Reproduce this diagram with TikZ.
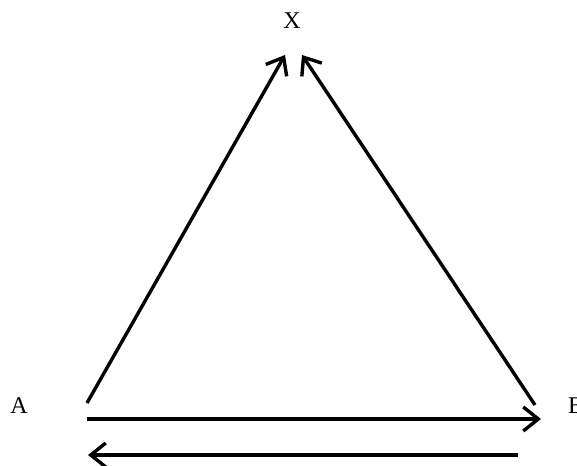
\documentclass[tikz,border=0pt]{standalone}
\usepackage{fontspec}
\setmainfont{Liberation Serif}
\usetikzlibrary{arrows.meta}
\begin{document}
\begin{tikzpicture}[x=1pt,y=1pt,
  lbl/.style={inner sep=0pt,font=\fontsize{24}{28}\selectfont},
  arr/.style={line width=3.4pt,-{Straight Barb[length=15pt,width=24pt,line width=3.4pt]}}]
\useasboundingbox (0,0) rectangle (577,465);
\node[lbl,anchor=base] (X) at (292,436) {X};
\node[lbl,anchor=base] (A) at (19,51) {A};
\node[lbl,anchor=base west] (B) at (568,52) {B};
\coordinate (ls) at (87,62);
\coordinate (lt) at (285,410);
\coordinate (rs) at (535,60);
\coordinate (rt) at (302,410);
\coordinate (hs) at (87,46);
\coordinate (ht) at (541,46);
\coordinate (bs) at (518,10);
\coordinate (bt) at (88,10);
\draw[arr] (ls) -- (lt);
\draw[arr] (rs) -- (rt);
\draw[arr] (hs) -- (ht);
\draw[arr] (bs) -- (bt);
\end{tikzpicture}
\end{document}
